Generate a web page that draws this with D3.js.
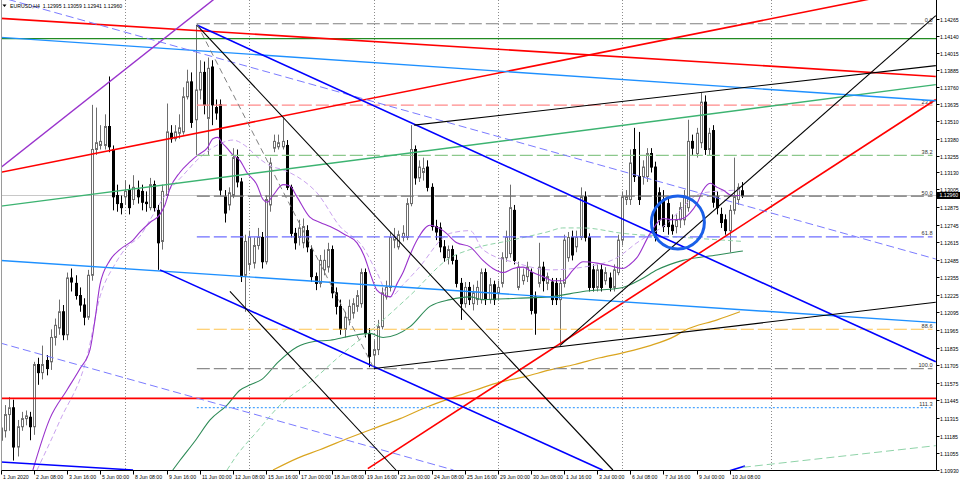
<!DOCTYPE html>
<html><head><meta charset="utf-8">
<script src="https://cdn.jsdelivr.net/npm/d3@7"></script>
<style>
body{margin:0;background:#fff}
svg{display:block}
text{font-family:"Liberation Sans",Arial,sans-serif}
</style>
</head><body>
<svg id="chart" width="960" height="482"></svg>
<script>
// ---------------- DATA ----------------
const chartTitle = "EURUSD,H4  1.12995 1.13059 1.12941 1.12960";
const lastPrice = 1.12960;

const openP = [
1.1115,1.1122,1.1134,1.1139,1.1110,1.1125,1.1131,1.1132,1.1125,1.1171,
1.1165,1.1174,1.1173,1.1191,1.1198,1.1210,1.1193,1.1235,1.1231,1.1222,
1.1215,1.1206,1.1237,1.1330,1.1333,1.1333,1.1347,1.1330,1.1296,1.1290,
1.1295,1.1300,1.1293,1.1300,1.1299,1.1291,1.1287,1.1304,1.1285,1.1262,
1.1296,1.1342,1.1338,1.1342,1.1343,1.1369,1.1380,1.1352,1.1374,1.1387,
1.1353,1.1391,1.1361,1.1363,1.1295,1.1289,1.1296,1.1324,1.1306,1.1237,
1.1245,1.1246,1.1259,1.1265,1.1247,1.1289,1.1331,1.1332,1.1332,1.1333,
1.1302,1.1268,1.1265,1.1261,1.1270,1.1256,1.1236,1.1231,1.1241,1.1243,
1.1256,1.1224,1.1214,1.1197,1.1204,1.1209,1.1214,1.1216,1.1239,1.1194,
1.1178,1.1182,1.1199,1.1221,1.1228,1.1263,1.1258,1.1265,1.1265,1.1290,
1.1330,1.1309,1.1313,1.1317,1.1302,1.1273,1.1272,1.1258,1.1250,1.1256,
1.1248,1.1231,1.1216,1.1228,1.1216,1.1219,1.1219,1.1239,1.1219,1.1230,
1.1224,1.1231,1.1250,1.1253,1.1285,1.1228,1.1233,1.1236,1.1239,1.1221,
1.1231,1.1243,1.1231,1.1232,1.1231,1.1219,1.1231,1.1250,1.1265,1.1258,
1.1265,1.1295,1.1265,1.1241,1.1228,1.1241,1.1233,1.1235,1.1228,1.1239,
1.1263,1.1293,1.1293,1.1330,1.1310,1.1310,1.1310,1.1327,1.1317,1.1298,
1.1293,1.1290,1.1274,1.1273,1.1278,1.1278,1.1287,1.1336,1.1327,1.1335,
1.1365,1.1330,1.1344,1.1295,1.1282,1.1278,1.1270,1.1285,1.1293,1.12995
];
const highP = [
1.1130,1.1141,1.1147,1.1145,1.1130,1.1136,1.1137,1.1136,1.1173,1.1176,
1.1185,1.1178,1.1197,1.1205,1.1219,1.1215,1.1239,1.1242,1.1237,1.1228,
1.1220,1.1241,1.1363,1.1361,1.1348,1.1356,1.1384,1.1333,1.1304,1.1296,
1.1307,1.1304,1.1311,1.1307,1.1304,1.1299,1.1309,1.1307,1.1289,1.1304,
1.1364,1.1348,1.1348,1.1356,1.1376,1.1389,1.1387,1.1422,1.1396,1.1395,
1.1398,1.1396,1.1367,1.1367,1.1300,1.1302,1.1331,1.1330,1.1309,1.1267,
1.1270,1.1265,1.1272,1.1269,1.1296,1.1324,1.1341,1.1341,1.1353,1.1337,
1.1304,1.1272,1.1278,1.1279,1.1274,1.1259,1.1239,1.1252,1.1256,1.1261,
1.1259,1.1228,1.1219,1.1210,1.1219,1.1220,1.1226,1.1242,1.1242,1.1198,
1.1189,1.1204,1.1228,1.1233,1.1269,1.1272,1.1270,1.1274,1.1294,1.1348,
1.1333,1.1322,1.1324,1.1322,1.1305,1.1278,1.1276,1.1263,1.1259,1.1259,
1.1252,1.1235,1.1232,1.1232,1.1230,1.1233,1.1242,1.1242,1.1235,1.1233,
1.1233,1.1254,1.1270,1.1304,1.1289,1.1247,1.1242,1.1247,1.1242,1.1225,
1.1261,1.1247,1.1239,1.1235,1.1235,1.1235,1.1267,1.1269,1.1270,1.1270,
1.1302,1.1299,1.1268,1.1245,1.1245,1.1245,1.1243,1.1239,1.1245,1.1267,
1.1299,1.1300,1.1330,1.1346,1.1343,1.1322,1.1331,1.1331,1.1321,1.1302,
1.1300,1.1294,1.1282,1.1282,1.1291,1.1300,1.1352,1.1341,1.1346,1.1372,
1.1370,1.1346,1.1348,1.1299,1.1287,1.1282,1.1289,1.1324,1.1305,1.13059
];
const lowP = [
1.1108,1.1117,1.1122,1.1100,1.1103,1.1122,1.1126,1.1115,1.1119,1.1156,
1.1160,1.1163,1.1167,1.1185,1.1193,1.1189,1.1189,1.1225,1.1219,1.1210,
1.1200,1.1204,1.1233,1.1326,1.1330,1.1330,1.1328,1.1285,1.1284,1.1282,
1.1289,1.1282,1.1289,1.1290,1.1285,1.1284,1.1285,1.1284,1.1241,1.1256,
1.1294,1.1335,1.1336,1.1338,1.1341,1.1367,1.1346,1.1326,1.1367,1.1356,
1.1326,1.1348,1.1352,1.1296,1.1276,1.1285,1.1294,1.1302,1.1232,1.1210,
1.1241,1.1242,1.1256,1.1242,1.1245,1.1284,1.1328,1.1330,1.1330,1.1300,
1.1265,1.1256,1.1259,1.1257,1.1254,1.1232,1.1226,1.1228,1.1237,1.1239,
1.1220,1.1208,1.1193,1.1191,1.1200,1.1205,1.1210,1.1213,1.1191,1.1169,
1.1168,1.1178,1.1197,1.1219,1.1225,1.1257,1.1256,1.1262,1.1263,1.1288,
1.1304,1.1306,1.1307,1.1299,1.1270,1.1263,1.1254,1.1247,1.1245,1.1245,
1.1228,1.1204,1.1213,1.1215,1.1211,1.1215,1.1216,1.1215,1.1216,1.1215,
1.1219,1.1228,1.1247,1.1250,1.1245,1.1226,1.1230,1.1232,1.1208,1.1193,
1.1228,1.1225,1.1226,1.1215,1.1215,1.1187,1.1228,1.1247,1.1248,1.1254,
1.1263,1.1262,1.1225,1.1225,1.1225,1.1225,1.1230,1.1225,1.1225,1.1237,
1.1259,1.1289,1.1289,1.1306,1.1289,1.1304,1.1306,1.1313,1.1262,1.1274,
1.1269,1.1267,1.1267,1.1268,1.1272,1.1274,1.1284,1.1326,1.1324,1.1331,
1.1326,1.1326,1.1287,1.1282,1.1272,1.1267,1.1254,1.1282,1.1289,1.12941
];
const closeP = [
1.1124,1.1134,1.1139,1.1110,1.1125,1.1131,1.1133,1.1125,1.1171,1.1165,
1.1171,1.1168,1.1191,1.1200,1.1210,1.1193,1.1235,1.1232,1.1222,1.1215,
1.1206,1.1237,1.1330,1.1335,1.1336,1.1347,1.1332,1.1295,1.1290,1.1287,
1.1299,1.1287,1.1302,1.1295,1.1291,1.1290,1.1304,1.1287,1.1261,1.1299,
1.1343,1.1338,1.1343,1.1346,1.1369,1.1380,1.1350,1.1374,1.1387,1.1363,
1.1390,1.1363,1.1357,1.1300,1.1283,1.1298,1.1324,1.1306,1.1236,1.1262,
1.1265,1.1259,1.1265,1.1247,1.1293,1.1320,1.1336,1.1335,1.1336,1.1302,
1.1268,1.1261,1.1272,1.1273,1.1258,1.1236,1.1231,1.1248,1.1248,1.1256,
1.1224,1.1214,1.1197,1.1206,1.1214,1.1216,1.1222,1.1239,1.1194,1.1177,
1.1182,1.1199,1.1224,1.1228,1.1265,1.1265,1.1267,1.1268,1.1290,1.1330,
1.1309,1.1317,1.1316,1.1302,1.1273,1.1269,1.1258,1.1250,1.1256,1.1248,
1.1231,1.1216,1.1228,1.1219,1.1224,1.1228,1.1239,1.1219,1.1230,1.1219,
1.1228,1.1250,1.1265,1.1287,1.1248,1.1243,1.1237,1.1243,1.1211,1.1209,
1.1243,1.1233,1.1236,1.1219,1.1219,1.1231,1.1263,1.1265,1.1252,1.1265,
1.1295,1.1265,1.1228,1.1228,1.1241,1.1228,1.1239,1.1228,1.1241,1.1263,
1.1295,1.1295,1.1320,1.1310,1.1293,1.1317,1.1327,1.1317,1.1265,1.1278,
1.1273,1.1273,1.1270,1.1278,1.1287,1.1295,1.1336,1.1331,1.1342,1.1365,
1.1330,1.1342,1.1291,1.1287,1.1276,1.1270,1.1285,1.1295,1.1302,1.12960
];

const timeLabels = [
[0,"1 Jun 2020"],[8,"2 Jun 08:00"],[16,"3 Jun 16:00"],[24,"5 Jun 00:00"],
[32,"8 Jun 08:00"],[40,"9 Jun 16:00"],[48,"11 Jun 00:00"],[56,"12 Jun 08:00"],
[64,"15 Jun 16:00"],[72,"17 Jun 00:00"],[80,"18 Jun 08:00"],[88,"19 Jun 16:00"],
[96,"23 Jun 00:00"],[104,"24 Jun 08:00"],[112,"25 Jun 16:00"],[120,"29 Jun 00:00"],
[128,"30 Jun 08:00"],[136,"1 Jul 16:00"],[144,"3 Jul 00:00"],[152,"6 Jul 08:00"],
[160,"7 Jul 16:00"],[168,"9 Jul 00:00"],[176,"10 Jul 08:00"]
];
const priceTicks = [1.14265,1.14140,1.14015,1.13885,1.13760,1.13635,1.13510,1.13380,1.13255,
1.13130,1.13005,1.12875,1.12745,1.12615,1.12485,1.12355,1.12225,1.12095,1.11965,1.11835,
1.11705,1.11575,1.11445,1.11315,1.11185,1.11055,1.10930];
const weekGridBars = [30,60,90,120,150,186];

// moving averages: [bar index, price]
const maFast = [[7.7,1.1093],[11.8,1.1131],[15.9,1.1152],[19.1,1.1168],[21.5,1.1182],[22.7,1.1204],
[23.9,1.1230],[26.3,1.1248],[28.7,1.1256],[31.9,1.1263],[33.6,1.1269],[36,1.1276],[38.4,1.1282],
[39.6,1.1289],[40.8,1.1301],[43.2,1.1313],[45.7,1.1321],[47.6,1.1326],[49.8,1.1331],[51.2,1.1338],
[52.4,1.1339],[53.4,1.1335],[54.6,1.1331],[56,1.1326],[57.7,1.1322],[59.4,1.1313],[61.8,1.1304],
[63.3,1.1293],[64.3,1.1291],[65.7,1.1296],[68.1,1.1304],[69.8,1.1303],[71.5,1.1295],[74.6,1.1280],
[77.1,1.1276],[79.5,1.1273],[83.1,1.1267],[86,1.1261],[87.9,1.1250],[89.1,1.1239],[90.8,1.1226],
[92.8,1.1222],[94,1.1221],[95.7,1.1231],[97.1,1.1239],[98.8,1.1252],[100.5,1.1263],[103.6,1.1274],
[106.8,1.1270],[110.1,1.1261],[113.3,1.1258],[116.4,1.1248],[118.8,1.1242],[121.3,1.1239],
[123.7,1.1242],[126.1,1.1243],[128.5,1.1239],[130.9,1.1236],[133.3,1.1233],[135.7,1.1233],
[138.2,1.1241],[140.6,1.1247],[144,1.1246],[147.1,1.1244],[150.2,1.1242],[151.9,1.1245],
[153.6,1.1250],[156.8,1.1268],[159.9,1.1279],[162.3,1.1278],[164.7,1.1279],[166.4,1.1283],
[168.1,1.1290],[169.6,1.1300],[171.3,1.1305],[173,1.1302],[174.4,1.1300],[176.6,1.1296],[178.5,1.1296]];
const maFastSignal = [[8.7,1.1093],[14.3,1.1130],[20.8,1.1177],[23.9,1.1221],[27.5,1.1245],[30.4,1.1258],
[33.6,1.1266],[36,1.1278],[40.1,1.1298],[44,1.1311],[47.3,1.1322],[50.5,1.1330],[53.4,1.1335],
[56,1.1337],[58.9,1.1333],[62.1,1.1324],[65,1.1318],[68.1,1.1315],[71.5,1.1310],[76.3,1.1298],
[81.9,1.1273],[87.4,1.1258],[90.8,1.1239],[94,1.1221],[97.1,1.1230],[100.5,1.1241],[108.5,1.1268],
[113.3,1.1270],[116.4,1.1256],[124.6,1.1246],[132.6,1.1241],[140.6,1.1243],[148.8,1.1250],
[153.6,1.1261],[159.9,1.1273],[169.6,1.1298],[178.5,1.1300]];
const maMid = [[41.5,1.1093],[43.2,1.1100],[47,1.1115],[50.5,1.1130],[54.6,1.1141],[57.7,1.1152],
[60.2,1.1156],[63,1.1160],[67,1.1173],[71.5,1.1184],[75.6,1.1188],[79.5,1.1189],[84.3,1.1192],
[89.1,1.1194],[92.3,1.1191],[98.8,1.1199],[103.6,1.1214],[108.5,1.1219],[113.3,1.1221],
[116.4,1.1219],[124.6,1.1220],[132.6,1.1221],[140.6,1.1225],[150.2,1.1228],[154.6,1.1234],
[158.5,1.1241],[164.7,1.1248],[173,1.1252],[179.2,1.1255]];
const maMidDash = [[54.6,1.1093],[57,1.1104],[62,1.1122],[67.4,1.1141],[75.1,1.1159],[82.1,1.1178],
[90.1,1.1198],[98.8,1.1222],[108.5,1.1250],[113.3,1.1256],[123.4,1.1263],[131.9,1.1269],
[135.7,1.1272],[140.6,1.1272],[150.2,1.1268],[164.7,1.1265],[179.2,1.1262]];
const maSlow = [[65.7,1.1093],[71.8,1.1102],[77,1.1108],[84.3,1.1117],[90.3,1.1124],[96.4,1.1131],
[102.4,1.1139],[108.5,1.1146],[114.5,1.1152],[120.5,1.1158],[126.6,1.1162],[132.6,1.1167],
[138.6,1.1171],[144.7,1.1176],[150.7,1.1180],[156.8,1.1185],[162.8,1.1192],[165,1.1196],
[173,1.1204],[178.5,1.1210]];

// drawn objects: two anchor points each [bar index, price]
const trendLines = [
 {id:"redUpper",  p:[[-0.3,1.1427],[225.8,1.1384]]},
 {id:"redLong",   p:[[-0.3,1.1313],[225.8,1.1451]]},
 {id:"redLower",  p:[[88.6,1.1094],[225.8,1.1367]]},
 {id:"greenRise", p:[[-0.3,1.1288],[225.8,1.1378]]},
 {id:"blueTop",   p:[[-0.3,1.1413],[225.8,1.1366]]},
 {id:"blueMid",   p:[[-0.3,1.1248],[225.8,1.1202]]},
 {id:"violet",    p:[[-0.3,1.1316],[51.4,1.1441]]},
 {id:"lavUpper",  p:[[1.7,1.1441],[225.8,1.1249]]},
 {id:"lavLower",  p:[[-0.3,1.1187],[109.3,1.1093]]},
 {id:"chanUpper", p:[[47.3,1.1422],[225.8,1.1173]]},
 {id:"chanLower", p:[[38.4,1.1241],[145.3,1.1093]]},
 {id:"chanBase",  p:[[-0.3,1.1099],[31.9,1.1093]]},
 {id:"chanTail",  p:[[175.6,1.1092],[179.7,1.1096]]},
 {id:"greenTail", p:[[179.2,1.1095],[225.8,1.1111]]},
 {id:"blackDown1",p:[[47.3,1.1422],[147.8,1.1093]]},
 {id:"blackDown2",p:[[55.3,1.1225],[95.4,1.1093]]},
 {id:"blackTop",  p:[[99.8,1.1348],[225.8,1.1392]]},
 {id:"blackBase", p:[[90.1,1.1168],[225.8,1.1217]]},
 {id:"blackRise", p:[[135,1.1185],[225.8,1.1429]]},
 {id:"fibDiag",   p:[[47.3,1.1423],[90.1,1.1168]]}
];
const hLines = [{id:"redH", price:1.1146},{id:"greenH", price:1.1412}];
const fibAnchor = {startBar:47.3, endBar:225, p0:1.1423, p100:1.1168};
const fibLevels = [0,23.6,38.2,50,61.8,88.6,100,111.3];
const fibLabels = ["0.0","23.6","38.2","50.0","61.8","88.6","100.0","111.3"];
const circleMark = {bar:163.5, price:1.1276};

// ---------------- STYLE ----------------
const lineStyle = {
 redUpper:{c:"#ff0000",w:1.6}, redLong:{c:"#ff0000",w:1.6}, redLower:{c:"#ff0000",w:1.6},
 greenRise:{c:"#3cb371",w:1.4}, blueTop:{c:"#1e90ff",w:1.4}, blueMid:{c:"#1e90ff",w:1.4},
 violet:{c:"#9932cc",w:1.4}, lavUpper:{c:"#7b7bff",w:1,d:"8,4"}, lavLower:{c:"#7b7bff",w:1,d:"8,4"},
 chanUpper:{c:"#0000ff",w:1.6}, chanLower:{c:"#0000ff",w:1.6}, chanBase:{c:"#0000ff",w:1.6},
 chanTail:{c:"#0000ff",w:1.6}, greenTail:{c:"#8fd3a8",w:1,d:"8,4"},
 blackDown1:{c:"#000",w:1.1}, blackDown2:{c:"#000",w:1.1}, blackTop:{c:"#000",w:1.1},
 blackBase:{c:"#000",w:1.1}, blackRise:{c:"#000",w:1.1}, fibDiag:{c:"#808080",w:1,d:"6,4"},
 redH:{c:"#ff0000",w:1.6}, greenH:{c:"#228b22",w:1.4}
};
const fibStyle = [
 {c:"#808080",d:"13,4"},{c:"#ff8a8a",d:"13,4"},{c:"#8cc88c",d:"13,4"},{c:"#707070",d:"13,4"},
 {c:"#6f6fff",d:"13,4"},{c:"#ffc34d",d:"13,4"},{c:"#8c8c8c",d:"13,4"},{c:"#4da6ff",d:"2,2"}
];

// ---------------- DRAW ----------------
const svg = d3.select("#chart");
const BAR = 4.14;
const x = d3.scaleLinear().domain([0, 226]).range([1, 1 + BAR * 226]);
const y = d3.scaleLinear().domain([1.10930, 1.14265]).range([470, 19]);
const P = {l:1.5, r:936.5, t:0, b:470.5};

svg.append("defs").append("clipPath").attr("id","plot")
  .append("rect").attr("x",P.l).attr("y",P.t).attr("width",P.r-P.l).attr("height",P.b-P.t);

const g = svg.append("g").attr("clip-path","url(#plot)");

// grid (weekly dotted)
g.selectAll("line.grid").data(weekGridBars).join("line")
  .attr("x1",d=>Math.round(x(d))+0.5).attr("x2",d=>Math.round(x(d))+0.5)
  .attr("y1",P.t).attr("y2",P.b).attr("stroke","#8c8c8c").attr("stroke-dasharray","1,2");

// bid line
g.append("line").attr("x1",P.l).attr("x2",P.r)
  .attr("y1",Math.round(y(lastPrice))+0.5).attr("y2",Math.round(y(lastPrice))+0.5)
  .attr("stroke","#c8c8c8");

// candles
const bars = d3.range(openP.length).map(i=>({i,o:openP[i],h:highP[i],l:lowP[i],c:closeP[i]}));
const cx = d=>Math.round(x(d.i));
g.selectAll("line.wick").data(bars).join("line")
  .attr("x1",d=>cx(d)+0.5).attr("x2",d=>cx(d)+0.5)
  .attr("y1",d=>y(d.h)).attr("y2",d=>y(d.l))
  .attr("stroke",d=>d.c>=d.o?"#6e6e6e":"#000").attr("stroke-width",1);
g.selectAll("rect.body").data(bars).join("rect")
  .attr("x",d=>cx(d)-0.5).attr("width",2)
  .attr("y",d=>y(Math.max(d.o,d.c)))
  .attr("height",d=>Math.max(1,Math.abs(y(d.o)-y(d.c))))
  .attr("fill",d=>d.c>=d.o?"#fff":"#000")
  .attr("stroke",d=>d.c>=d.o?"#6e6e6e":"#000").attr("stroke-width",1);

// moving averages
const maLine = d3.line().x(d=>x(d[0])).y(d=>y(d[1])).curve(d3.curveMonotoneX);
const mas = [
 {d:maSlow, c:"#daa520", w:1.2},
 {d:maMid, c:"#2e8b57", w:1.1},
 {d:maMidDash, c:"#8fd3a8", w:1, dash:"5,3"},
 {d:maFastSignal, c:"#c9a2ee", w:1, dash:"5,3"},
 {d:maFast, c:"#9932cc", w:1.1}
];
mas.forEach(m=>{
  g.append("path").datum(m.d).attr("d",maLine).attr("fill","none")
   .attr("stroke",m.c).attr("stroke-width",m.w).attr("stroke-dasharray",m.dash||null);
});

// fibonacci levels
const fibPrice = lv => fibAnchor.p0 + (fibAnchor.p100 - fibAnchor.p0) * lv / 100;
fibLevels.forEach((lv,k)=>{
  const yy = y(fibPrice(lv));
  g.append("line").attr("x1",x(fibAnchor.startBar)).attr("x2",x(fibAnchor.endBar))
   .attr("y1",yy).attr("y2",yy).attr("stroke",fibStyle[k].c).attr("stroke-width",1.2)
   .attr("stroke-dasharray",fibStyle[k].d);
  g.append("text").attr("x",x(fibAnchor.endBar)).attr("y",yy-1.5)
   .attr("text-anchor","end").attr("font-size",5.6).attr("fill","#333").text(fibLabels[k]);
});

// horizontal lines
hLines.forEach(h=>{
  const s=lineStyle[h.id];
  g.append("line").attr("x1",P.l).attr("x2",P.r).attr("y1",y(h.price)).attr("y2",y(h.price))
   .attr("stroke",s.c).attr("stroke-width",s.w);
});

// trend lines
trendLines.forEach(t=>{
  const s=lineStyle[t.id];
  g.append("line").attr("x1",x(t.p[0][0])).attr("y1",y(t.p[0][1]))
   .attr("x2",x(t.p[1][0])).attr("y2",y(t.p[1][1]))
   .attr("stroke",s.c).attr("stroke-width",s.w).attr("stroke-dasharray",s.d||null);
});

// circle marker
g.append("circle").attr("cx",x(circleMark.bar)).attr("cy",y(circleMark.price)).attr("r",26.5)
  .attr("fill","none").attr("stroke","#1a5fe8").attr("stroke-width",3);

// borders
svg.append("line").attr("x1",P.l).attr("x2",P.l).attr("y1",0).attr("y2",P.b).attr("stroke","#9a9a9a");
svg.append("line").attr("x1",P.r).attr("x2",P.r).attr("y1",0).attr("y2",P.b).attr("stroke","#000");
svg.append("line").attr("x1",P.l).attr("x2",P.r).attr("y1",P.b).attr("y2",P.b).attr("stroke","#000");

// right price axis
const ax = svg.append("g");
priceTicks.forEach(p=>{
  const yy = Math.round(y(p))+0.5;
  ax.append("line").attr("x1",P.r).attr("x2",P.r+3).attr("y1",yy).attr("y2",yy).attr("stroke","#000");
  ax.append("text").attr("x",940).attr("y",yy+2).attr("font-size",5.2).attr("fill","#000")
    .text(d3.format(".5f")(p));
});
// current price box
const ly = y(lastPrice);
ax.append("rect").attr("x",937).attr("y",ly-3.5).attr("width",23).attr("height",7).attr("fill","#000");
ax.append("text").attr("x",939.5).attr("y",ly+2).attr("font-size",5.2).attr("fill","#fff")
  .text(d3.format(".5f")(lastPrice));

// bottom time axis
timeLabels.forEach(([i,t])=>{
  const xx = Math.round(x(i))+0.5;
  ax.append("line").attr("x1",xx).attr("x2",xx).attr("y1",P.b).attr("y2",P.b+4).attr("stroke","#000");
  ax.append("text").attr("x",xx+1.5).attr("y",479).attr("font-size",5.2).attr("fill","#000").text(t);
});

// title
svg.append("path").attr("d","M2.5,4.5 L6.5,4.5 L4.5,7 Z").attr("fill","#000");
svg.append("text").attr("x",10).attr("y",7.8).attr("font-size",5.2).attr("fill","#000")
  .attr("xml:space","preserve").text(chartTitle);
</script>
</body></html>
